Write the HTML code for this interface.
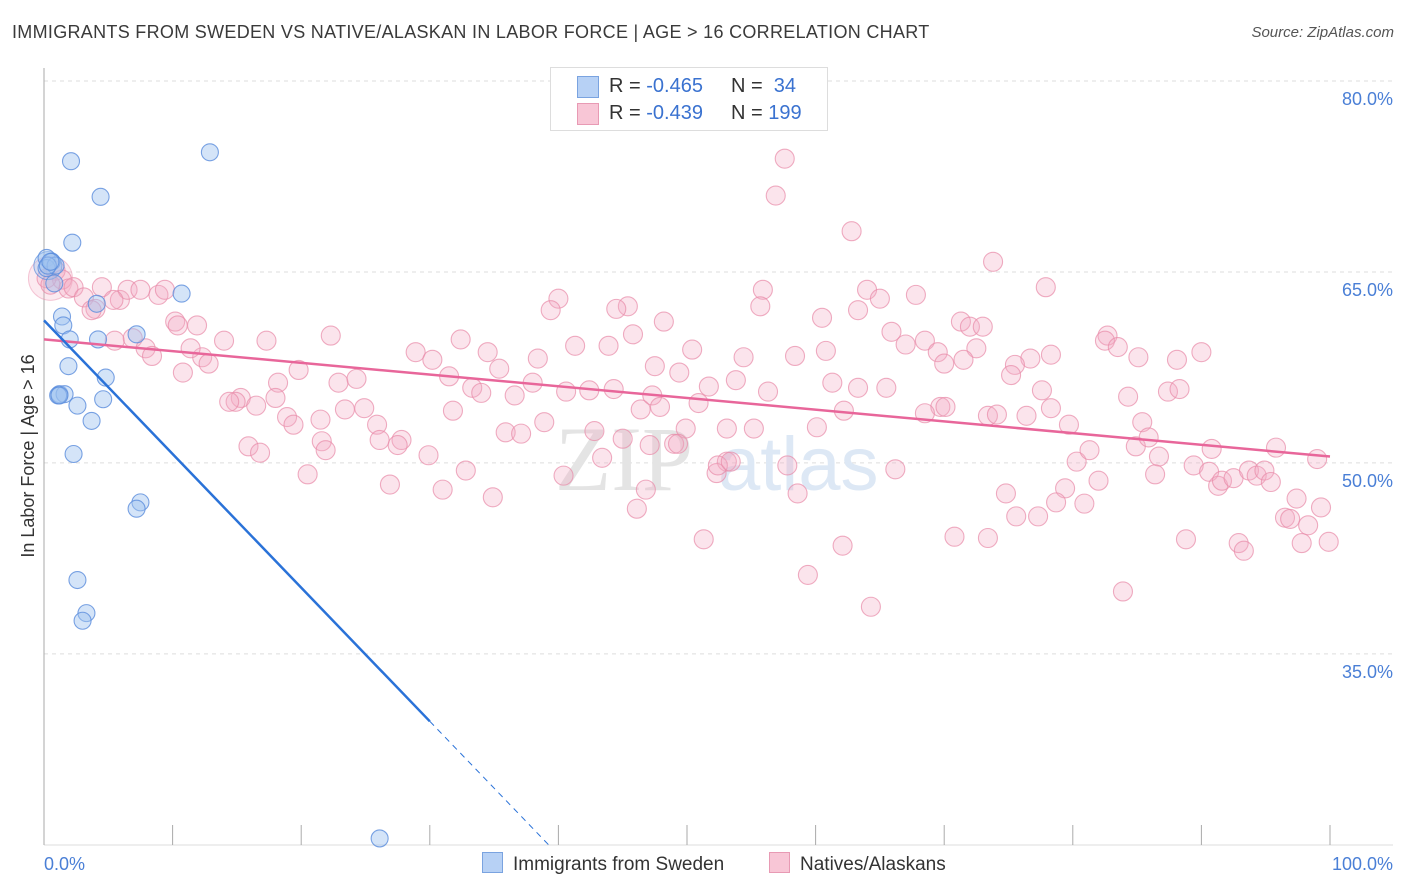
<!DOCTYPE html>
<html><head><meta charset="utf-8">
<style>
body{margin:0;background:#fff;font-family:"Liberation Sans",sans-serif;}
#wrap{position:relative;width:1406px;height:892px;overflow:hidden}
.title{position:absolute;left:12px;top:22px;font-size:18px;color:#3a3a3a;letter-spacing:0.3px}
.src{position:absolute;right:12px;top:24px;font-size:15px;color:#555;font-style:italic}
</style></head>
<body>
<div id="wrap">
<div class="title">IMMIGRANTS FROM SWEDEN VS NATIVE/ALASKAN IN LABOR FORCE | AGE &gt; 16 CORRELATION CHART</div>
<div class="src">Source: ZipAtlas.com</div>
<svg id="svg" width="1406" height="892" style="position:absolute;left:0;top:0"></svg>
</div>
<script>
const blueX=[2.1,12.9,4.4,2.2,0.2,0.6,0.2,0.8,10.7,4.1,1.4,1.5,2.0,4.2,7.2,1.9,4.8,1.2,1.6,1.1,4.6,2.6,3.7,2.3,7.5,7.2,2.6,3.3,3.0,26.1,0.9,0.3,0.5,1.2];
const blueY=[73.7,74.4,70.9,67.3,66.1,65.8,65.3,64.1,63.3,62.5,61.5,60.8,59.7,59.7,60.1,57.6,56.7,55.4,55.4,55.3,55.0,54.5,53.3,50.7,46.9,46.4,40.8,38.2,37.6,20.5,65.5,65.5,65.8,55.3];
const pinkX=[57.6,56.9,62.8,73.8,77.9,64.0,65.0,67.8,55.9,55.7,40.0,39.4,45.4,44.5,48.2,45.8,60.5,63.3,65.9,67.0,68.5,71.3,72.0,73.0,69.5,72.5,82.7,82.5,83.5,90.0,88.1,78.3,76.7,75.5,77.6,76.4,0.9,1.4,1.9,2.3,3.1,4.0,4.5,5.9,6.5,7.5,8.9,9.4,10.2,11.9,10.4,14.0,12.3,12.8,5.5,6.9,7.9,8.4,10.8,11.4,17.3,19.8,18.2,18.0,22.3,15.3,14.9,14.4,16.5,18.9,19.4,21.5,22.9,24.3,24.9,23.4,25.9,26.1,27.8,27.5,21.6,21.9,15.9,16.8,20.5,26.9,28.9,30.2,31.5,32.4,34.5,33.3,35.4,34.0,31.8,29.9,31.0,32.8,34.9,35.9,37.1,36.6,38.0,38.4,38.9,41.3,40.6,42.4,43.9,42.8,43.4,45.0,44.3,47.5,46.4,47.3,47.9,49.0,49.9,50.4,49.4,51.7,50.9,53.1,54.4,53.8,56.3,53.1,52.3,55.2,60.1,58.4,61.3,62.2,60.8,65.5,66.2,69.7,70.1,70.8,73.4,75.2,74.8,74.1,78.3,79.7,80.3,81.3,79.4,78.7,77.3,80.9,82.0,84.3,85.4,84.9,85.9,86.7,86.4,87.4,88.3,89.4,90.8,90.6,91.3,91.6,92.5,93.7,94.3,94.9,95.4,95.8,97.4,96.5,96.9,98.3,99.0,99.3,97.8,99.9,92.9,93.3,88.8,83.9,75.6,73.4,64.3,62.1,59.4,58.6,57.8,51.3,46.1,46.8,40.4,52.4,53.4,47.1,49.3,70.0,71.5,63.3,85.1,68.5,0.2,0.5,3.7,5.4];
const pinkY=[73.9,71.0,68.2,65.8,63.8,63.6,62.9,63.2,63.6,62.3,62.9,62.0,62.3,62.1,61.1,60.1,61.4,62.0,60.3,59.3,59.6,61.1,60.7,60.7,58.7,59.0,60.0,59.6,59.1,58.7,58.1,58.5,58.2,57.7,55.7,53.7,65.1,64.4,63.7,63.8,63.0,62.1,63.8,62.8,63.6,63.6,63.2,63.6,61.1,60.8,60.8,59.6,58.3,57.8,59.6,59.8,59.0,58.4,57.1,59.0,59.6,57.3,56.3,55.1,60.0,55.1,54.8,54.8,54.5,53.6,53.0,53.4,56.3,56.6,54.3,54.2,53.0,51.8,51.8,51.4,51.7,51.0,51.3,50.8,49.1,48.3,58.7,58.1,56.8,59.7,58.7,55.9,57.4,55.5,54.1,50.6,47.9,49.4,47.3,52.4,52.3,55.3,56.3,58.2,53.2,59.2,55.6,55.7,59.2,52.5,50.4,51.9,55.8,57.6,54.2,55.3,54.4,51.5,52.7,58.9,57.1,56.0,54.7,52.7,58.3,56.5,55.6,50.1,49.2,52.7,52.8,58.4,56.3,54.1,58.8,55.9,49.5,54.4,54.4,44.2,53.7,56.9,47.6,53.8,54.3,53.0,50.1,51.0,48.0,46.9,45.8,46.8,48.6,55.2,53.2,51.3,52.0,50.5,49.1,55.6,55.8,49.8,51.1,49.3,48.2,48.6,48.8,49.4,49.0,49.4,48.5,51.2,47.2,45.7,45.6,45.1,50.3,46.5,43.7,43.8,43.7,43.1,44.0,39.9,45.8,44.1,38.7,43.5,41.2,47.6,49.8,44.0,46.4,47.9,49.0,49.8,50.1,51.4,51.5,57.8,58.1,55.9,58.3,53.9,64.5,64.0,62.0,62.8];
const yTicks=[80,65,50,35];
const xTickVals=[0,10,20,30,40,50,60,70,80,90,100];
const blueLine=[61.2,-1.05];
const pinkLine=[59.7,-0.092];

const NS="http://www.w3.org/2000/svg";
const svg=document.getElementById('svg');
const X0=44,X1=1330,YT=81,PPY=12.73;
const sx=v=>X0+(X1-X0)*v/100;
const sy=v=>YT+(80-v)*PPY;
function mk(t,a){const e=document.createElementNS(NS,t);for(const k in a)e.setAttribute(k,a[k]);svg.appendChild(e);return e;}

for(const t of yTicks){
 const g=mk('line',{x1:44,x2:1393,y1:sy(t),y2:sy(t),stroke:'#ddd','stroke-dasharray':'4,4'});
 
 
 const l=mk('text',{x:1393,y:sy(t)+24,'text-anchor':'end','font-size':18,fill:'#4a7fd6'});
 l.textContent=t.toFixed(1)+'%';
 
 
}
const ax=mk('line',{x1:44,x2:44,y1:68,y2:845,stroke:'#aaa'});


const bx=mk('line',{x1:44,x2:1393,y1:845,y2:845,stroke:'#ddd'});


for(const t of xTickVals){
 const k=mk('line',{x1:sx(t),x2:sx(t),y1:825,y2:845,stroke:'#aaa'});
 
 
}
const xl=mk('text',{x:44,y:870,'font-size':18,fill:'#4a7fd6'});xl.textContent='0.0%';


const xr=mk('text',{x:1393,y:870,'font-size':18,fill:'#4a7fd6','text-anchor':'end'});xr.textContent='100.0%';


const yt=mk('text',{x:34,y:456,'font-size':18,fill:'#333','text-anchor':'middle',transform:'rotate(-90 34 456)'});yt.textContent='In Labor Force | Age > 16';


const w1=mk('text',{x:555,y:490,'font-size':92,fill:'#e4e4e4','font-family':'Liberation Serif'});w1.textContent='ZIP';


const w2=mk('text',{x:718,y:490,'font-size':76,fill:'#dde8f5'});w2.textContent='atlas';



const bp=mk('circle',{cx:sx(0.5),cy:sy(64.5),r:22,fill:'rgba(244,170,196,0.25)',stroke:'rgba(232,138,168,0.45)'});


pinkX.forEach((x,i)=>{
 const c=mk('circle',{cx:sx(x),cy:sy(pinkY[i]),r:9.5,fill:'rgba(244,170,196,0.32)',stroke:'rgba(232,138,168,0.7)','stroke-width':1.1});
 
 
});
const bb=mk('circle',{cx:sx(0.3),cy:sy(65.5),r:14,fill:'rgba(160,196,240,0.4)',stroke:'rgba(90,140,220,0.7)'});


blueX.forEach((x,i)=>{
 const c=mk('circle',{cx:sx(x),cy:sy(blueY[i]),r:8.5,fill:'rgba(160,196,240,0.45)',stroke:'rgba(90,140,220,0.8)','stroke-width':1.1});
 
 
});
const pl=mk('line',{x1:sx(0),y1:sy(pinkLine[0]),x2:sx(100),y2:sy(pinkLine[0]+pinkLine[1]*100),stroke:'#e8669a','stroke-width':2.5});


const bEnd=30, bZero=(20-blueLine[0])/blueLine[1];
const bl=mk('line',{x1:sx(0),y1:sy(blueLine[0]),x2:sx(bEnd),y2:sy(blueLine[0]+blueLine[1]*bEnd),stroke:'#2a72d8','stroke-width':2.5});


const bd=mk('line',{x1:sx(bEnd),y1:sy(blueLine[0]+blueLine[1]*bEnd),x2:sx(bZero),y2:sy(20),stroke:'#2a72d8','stroke-width':1,'stroke-dasharray':'6,5'});


</script>
<div style="position:absolute;left:550px;top:67px;width:276px;height:62px;border:1px solid #ddd;background:#fff;font-size:20px;color:#333">
 <div style="position:absolute;left:26px;top:8px;width:20px;height:20px;background:#b7d1f5;border:1px solid #7aa3e0"></div>
 <div style="position:absolute;left:58px;top:7px">R = <span style="color:#3a72d0">-0.465</span></div>
 <div style="position:absolute;left:180px;top:7px">N = &nbsp;<span style="color:#3a72d0">34</span></div>
 <div style="position:absolute;left:26px;top:35px;width:20px;height:20px;background:#f8c6d6;border:1px solid #e89ab4"></div>
 <div style="position:absolute;left:58px;top:34px">R = <span style="color:#3a72d0">-0.439</span></div>
 <div style="position:absolute;left:180px;top:34px">N = <span style="color:#3a72d0">199</span></div>
</div>
<div style="position:absolute;left:482px;top:852px;font-size:19px;color:#333">
 <span style="position:absolute;left:0;top:0;white-space:nowrap"><span style="display:inline-block;width:19px;height:19px;background:#b7d1f5;border:1px solid #7aa3e0;vertical-align:-3px;margin-right:10px"></span>Immigrants from Sweden</span>
 <span style="position:absolute;left:287px;top:0;white-space:nowrap"><span style="display:inline-block;width:19px;height:19px;background:#f8c6d6;border:1px solid #e89ab4;vertical-align:-3px;margin-right:10px"></span>Natives/Alaskans</span>
</div>
</body></html>
